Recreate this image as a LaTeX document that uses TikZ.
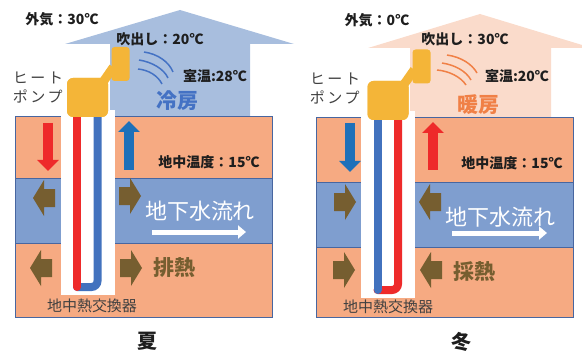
\documentclass[tikz,border=0pt]{standalone}
\usepackage{fontspec}
\setmainfont{Noto Sans CJK JP}
\usetikzlibrary{arrows.meta}

\definecolor{roomcool}{RGB}{168,190,222}
\definecolor{roomwarm}{RGB}{250,219,203}
\definecolor{soil}{RGB}{246,170,130}
\definecolor{water}{RGB}{127,158,207}
\definecolor{soilline}{RGB}{72,102,160}
\definecolor{unit}{RGB}{244,181,56}
\definecolor{hot}{RGB}{238,42,42}
\definecolor{cold}{RGB}{66,114,190}
\definecolor{coldflow}{RGB}{30,112,185}
\definecolor{heat}{RGB}{118,94,48}
\definecolor{coolink}{RGB}{68,114,196}
\definecolor{warmink}{RGB}{240,128,70}
\definecolor{ink}{RGB}{30,30,30}

\tikzset{
	soillayer/.style={fill=soil, draw=soilline, line width=1pt},
	waterlayer/.style={fill=water, draw=soilline, line width=1pt},
	pipe/.style={line width=8pt, line cap=round},
	flow/.style={line width=10pt, -{Triangle[length=11pt,width=21pt]}},
	outunit/.style={fill=unit, rounded corners=6pt, minimum width=41pt, minimum height=39pt, inner sep=0pt},
	inunit/.style={fill=unit, rounded corners=3pt, minimum width=18pt, minimum height=34pt, inner sep=0pt},
	duct/.style={unit, line width=9pt},
	breeze/.style={line width=1.5pt},
	heatarrow/.pic={\fill[heat] (-11,-9) -- (0,-9) -- (0,-18) -- (11,0) -- (0,18) -- (0,9) -- (-11,9) -- cycle;},
	note/.style={font=\bfseries\fontsize{14}{16}\selectfont, text=ink, inner sep=0pt},
	mode/.style={font=\bfseries\fontsize{21}{24}\selectfont, inner sep=0pt},
	flowtext/.style={font=\fontsize{22}{24}\selectfont, text=white, inner sep=0pt},
	plain/.style={font=\fontsize{15}{19}\selectfont, text=ink!85, inner sep=0pt},
	pumptext/.style={plain, align=left, font=\fontsize{15}{19}\selectfont\addfontfeatures{LetterSpace=18}},
	season/.style={font=\bfseries\fontsize{20}{22}\selectfont, text=ink, inner sep=0pt},
}

\begin{document}
\begin{tikzpicture}[x=1pt, y=-1pt]
	\useasboundingbox (0,0) rectangle (582,353);

	% summer
	\fill[roomcool] (65,44) -- (180,10) -- (294,44) -- (250,44) -- (250,117) -- (110,117) -- (110,44) -- cycle;
	\draw[soillayer] (15,117) rectangle (272,179);
	\draw[waterlayer] (15,179) rectangle (272,243);
	\draw[soillayer] (15,243) rectangle (272,317);
	\fill[white] (61,110) rectangle (115,295);
	\draw[pipe, cold, rounded corners=6pt] (97.5,112) -- (97.5,287) -- (77,287);
	\draw[pipe, hot] (77,112) -- (77,287);

	\node[outunit] (sout) at (87.5,97.5) {};
	\node[inunit] (sin) at (120.5,64) {};
	\draw[duct] ([xshift=-5pt,yshift=-4pt]sout.north east) -- ([xshift=2pt,yshift=14pt]sin.south west);
	\node[outunit] at (sout) {};

	\draw[breeze, coolink] (144,52) .. controls (158,54) and (169,62) .. (173,72);
	\draw[breeze, coolink] (139,60) .. controls (152,62) and (164,69) .. (168,78);
	\draw[breeze, coolink] (138,69) .. controls (149,70) and (158,76) .. (162,84);

	\draw[flow, hot] (48,123) -- (48,171);
	\draw[flow, coldflow] (129,170) -- (129,121);
	\draw[white, line width=5pt, -{Triangle[length=8pt,width=13pt]}] (152,232) -- (246,232);

	\pic[rotate=180] at (44,198) {heatarrow};
	\pic at (130,196) {heatarrow};
	\pic[rotate=180] at (41,268) {heatarrow};
	\pic at (131,268) {heatarrow};

	\node[note] (sair) at (62,19) {外気：30℃};
	\node[note] (sblow) at (160,39) {吹出し：20℃};
	\node[note] (sroom) at (215,76) {室温:28℃};
	\node[mode, text=coolink] (smode) at (177,101) {冷房};
	\node[pumptext] (spump) at (38,88) {ヒート\\ポンプ};
	\node[note] (sground) at (209,162) {地中温度：15℃};
	\node[flowtext] (sflow) at (200,211) {地下水流れ};
	\node[mode, text=heat] (sheat) at (174,268) {排熱};
	\node[plain] (sloop) at (92,306) {地中熱交換器};
	\node[season] (summer) at (147,341) {夏};

	% winter
	\begin{scope}[shift={(300,3)}]
		\fill[roomwarm] (68,45) -- (180,11) -- (292,45) -- (251,45) -- (251,115) -- (110,115) -- (110,45) -- cycle;
		\draw[soillayer] (16,115) rectangle (273,180);
		\draw[waterlayer] (16,180) rectangle (273,244);
		\draw[soillayer] (16,244) rectangle (273,314);
		\fill[white] (61,108) rectangle (115,295);
		\draw[pipe, hot, rounded corners=6pt] (98,110) -- (98,287) -- (77.5,287);
		\draw[pipe, cold] (77.5,110) -- (77.5,287);

		\node[outunit] (wout) at (88,97.5) {};
		\node[inunit] (win) at (121.5,63.5) {};
		\draw[duct] ([xshift=-5pt,yshift=-4pt]wout.north east) -- ([xshift=2pt,yshift=14pt]win.south west);
		\node[outunit] at (wout) {};

		\draw[breeze, warmink] (147,52) .. controls (161,54) and (172,61) .. (177,70);
		\draw[breeze, warmink] (142,60) .. controls (155,62) and (166,68) .. (171,77);
		\draw[breeze, warmink] (137,67) .. controls (149,68) and (161,74) .. (166,82);

		\draw[flow, coldflow] (50,120) -- (50,169);
		\draw[flow, hot] (133,167) -- (133,119);
		\draw[white, line width=5pt, -{Triangle[length=8pt,width=13pt]}] (152,230) -- (247,230);

		\pic at (45,199) {heatarrow};
		\pic[rotate=180] at (130,199) {heatarrow};
		\pic at (44,267) {heatarrow};
		\pic[rotate=180] at (131,267) {heatarrow};

		\node[note] (wair) at (77,17) {外気：0℃};
		\node[note] (wblow) at (165,36) {吹出し：30℃};
		\node[note] (wroom) at (217,73) {室温:20℃};
		\node[mode, text=warmink] (wmode) at (178,102) {暖房};
		\node[pumptext] (wpump) at (35,86) {ヒート\\ポンプ};
		\node[note] (wground) at (212,160) {地中温度：15℃};
		\node[flowtext] (wflow) at (200,214) {地下水流れ};
		\node[mode, text=heat] (wheat) at (174,269) {採熱};
		\node[plain] (wloop) at (88,304) {地中熱交換器};
		\node[season] (winter) at (161,339) {冬};
	\end{scope}
\end{tikzpicture}
\end{document}
